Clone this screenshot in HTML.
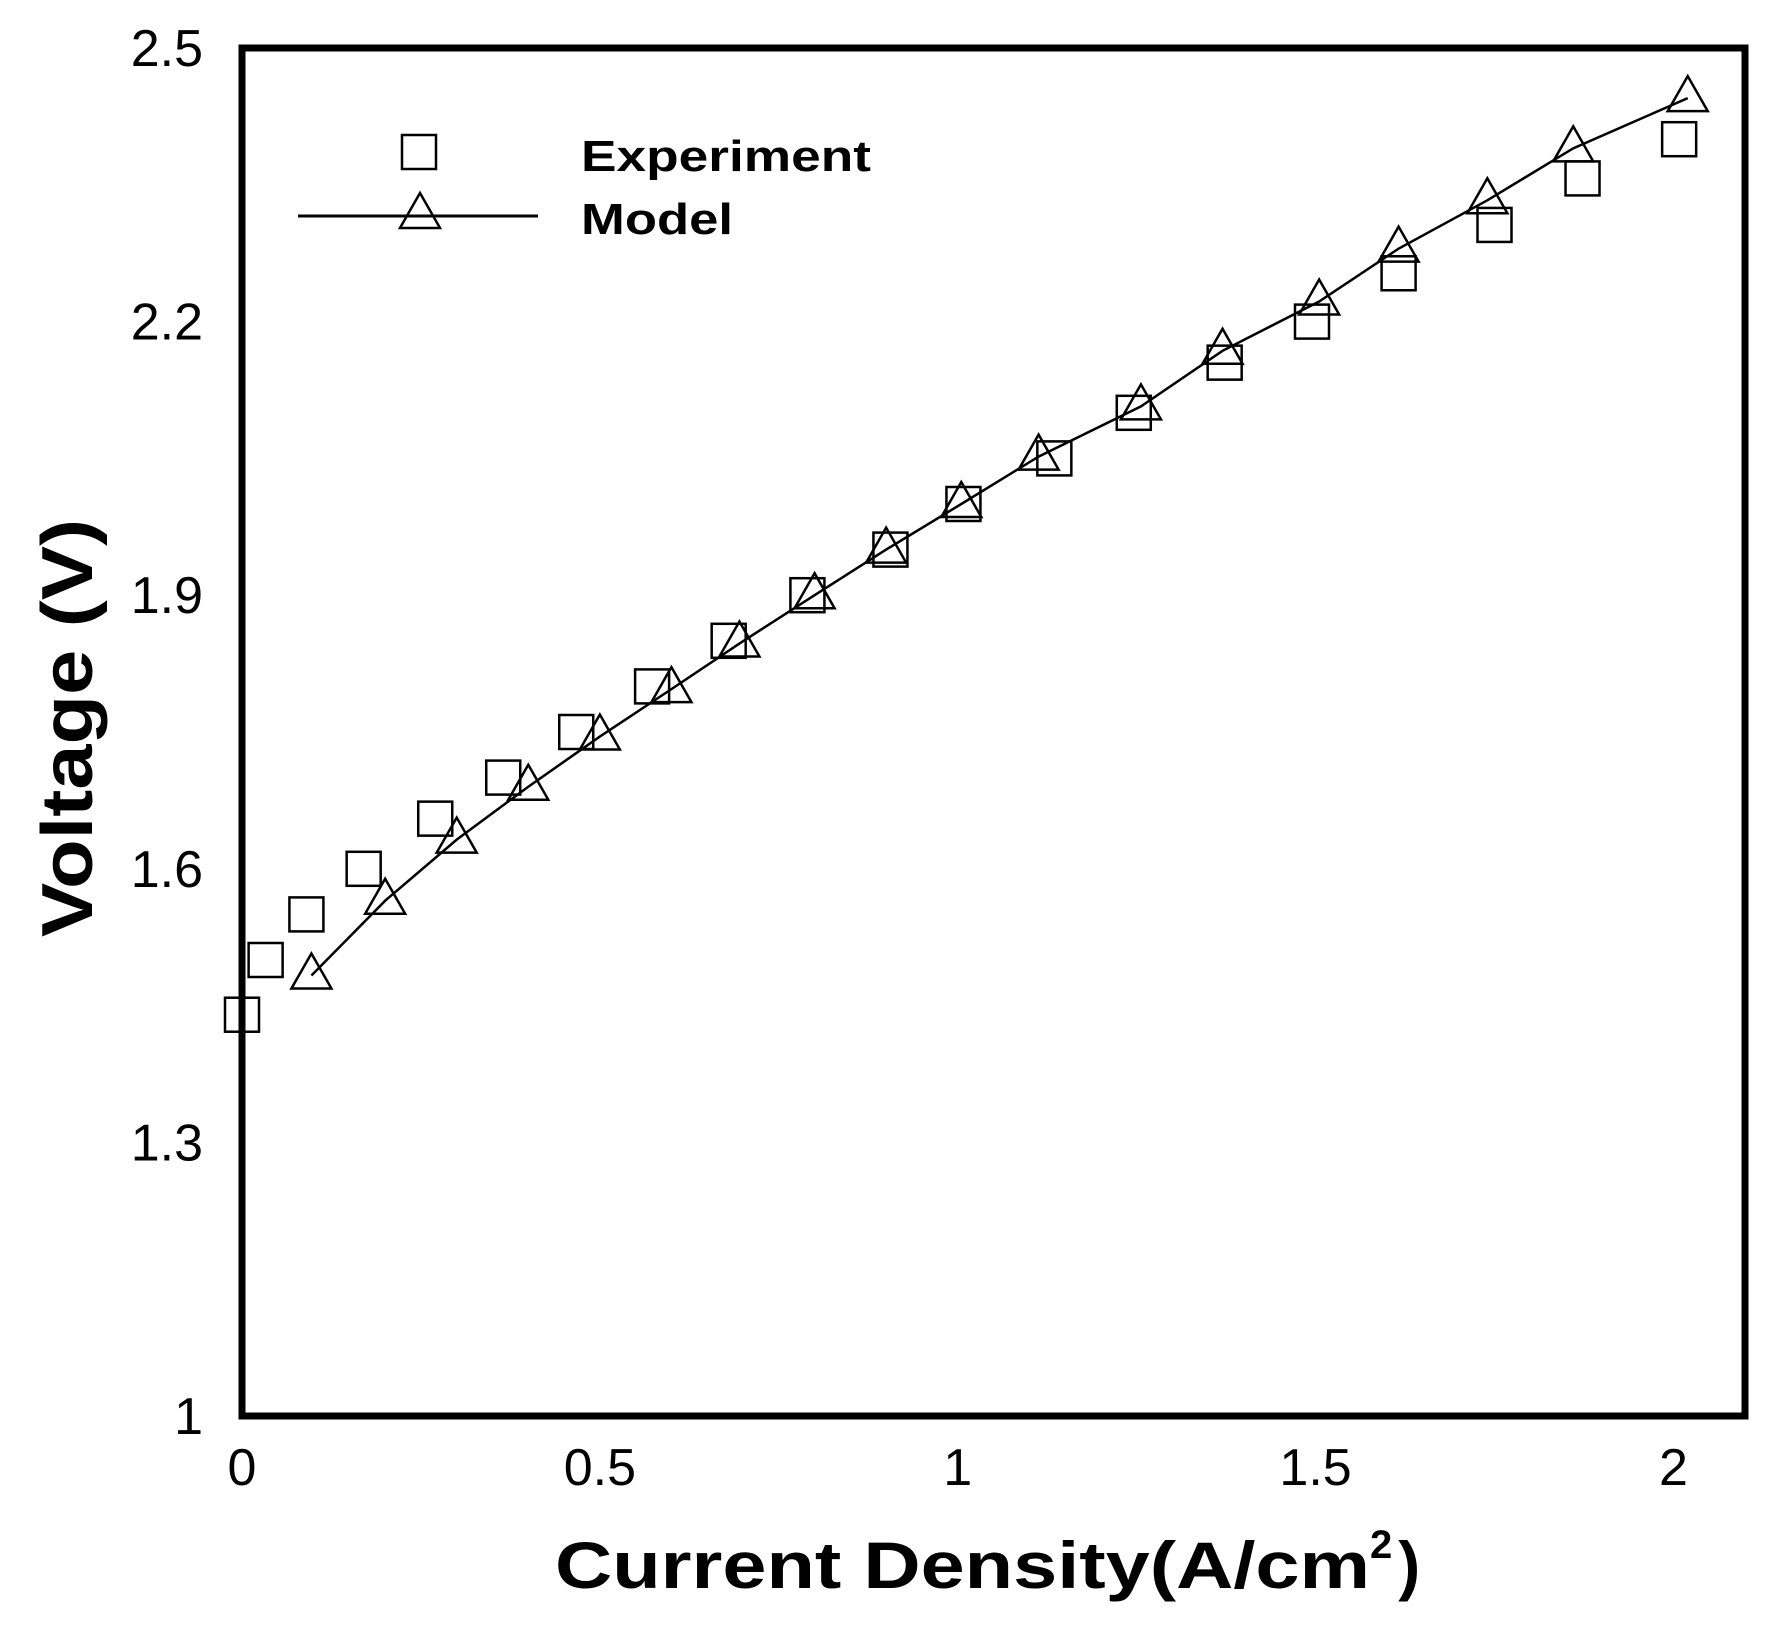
<!DOCTYPE html>
<html><head><meta charset="utf-8"><style>html,body{margin:0;padding:0;background:#fff}svg{display:block}</style></head>
<body>
<svg id="chart" width="1784" height="1634" viewBox="0 0 1784 1634" xmlns="http://www.w3.org/2000/svg" font-family="Liberation Sans, sans-serif">
<rect x="242" y="48" width="1503" height="1368" fill="none" stroke="#000" stroke-width="7"/>
<g id="yticks"></g>
<g id="xticks"></g>
<text x="0" y="0" transform="translate(92,728) rotate(-90)" text-anchor="middle" font-size="72" font-weight="bold" textLength="418" lengthAdjust="spacingAndGlyphs">Voltage (V)</text>
<text x="555" y="1588" font-size="66" font-weight="bold"><tspan textLength="815" lengthAdjust="spacingAndGlyphs">Current Density(A/cm</tspan><tspan dy="-30" font-size="40">2</tspan><tspan dy="30" dx="6">)</tspan></text>
<g id="series"></g>
<g>
<rect x="402" y="135" width="34" height="34" fill="none" stroke="#000" stroke-width="2.5"/>
<text x="581" y="171" font-size="44" font-weight="bold" textLength="290" lengthAdjust="spacingAndGlyphs">Experiment</text>
<line x1="298" y1="216" x2="538" y2="216" stroke="#000" stroke-width="3"/>
<polygon points="420,193 400,228 440,228" fill="none" stroke="#000" stroke-width="2.5"/>
<text x="581" y="234" font-size="44" font-weight="bold" textLength="152" lengthAdjust="spacingAndGlyphs">Model</text>
</g>
</svg>
<script>
const yTicks = [1, 1.3, 1.6, 1.9, 2.2, 2.5];
const yTickLabels = ["1", "1.3", "1.6", "1.9", "2.2", "2.5"];
const xTicks = [0, 0.5, 1, 1.5, 2];
const xTickLabels = ["0", "0.5", "1", "1.5", "2"];
const expX = [0, 0.033, 0.09, 0.17, 0.27, 0.365, 0.467, 0.573, 0.68, 0.79, 0.906, 1.008, 1.135, 1.246, 1.373, 1.495, 1.616, 1.75, 1.873, 2.008];
const expY = [1.44, 1.50, 1.55, 1.60, 1.655, 1.70, 1.75, 1.80, 1.85, 1.90, 1.95, 2.00, 2.05, 2.10, 2.155, 2.20, 2.253, 2.306, 2.357, 2.40];
const modelX = [0.097, 0.2, 0.3, 0.4, 0.5, 0.6, 0.695, 0.8, 0.9, 1.005, 1.113, 1.256, 1.37, 1.505, 1.616, 1.74, 1.86, 2.02];
const modelY = [1.483, 1.565, 1.632, 1.69, 1.745, 1.797, 1.847, 1.9, 1.95, 2.0, 2.052, 2.107, 2.168, 2.222, 2.28, 2.333, 2.39, 2.445];

const NS = "http://www.w3.org/2000/svg";
const X0 = 242, X1 = 1745, Y0 = 1416, Y1 = 48;
function sx(v){ return X0 + (v - 0) / 2.1 * (X1 - X0); }
function sy(v){ return Y0 - (v - 1) / 1.5 * (Y0 - Y1); }
function mk(tag, attrs){ const e = document.createElementNS(NS, tag); for (const k in attrs) e.setAttribute(k, attrs[k]); return e; }

const yg = document.getElementById('yticks');
yTicks.forEach((v, i) => {
  const t = mk('text', {x: 203, y: sy(v) + 18, 'text-anchor': 'end', 'font-size': '52'});
  t.textContent = yTickLabels[i];
  
  
  yg.appendChild(t);
});
const xg = document.getElementById('xticks');
xTicks.forEach((v, i) => {
  const t = mk('text', {x: sx(v), y: 1485, 'text-anchor': 'middle', 'font-size': '52'});
  t.textContent = xTickLabels[i];
  
  
  xg.appendChild(t);
});

const sg = document.getElementById('series');
const pts = modelX.map((x, i) => sx(x) + ',' + sy(modelY[i])).join(' ');
const line = mk('polyline', {points: pts, fill: 'none', stroke: '#000', 'stroke-width': '2.5'});


sg.appendChild(line);
modelX.forEach((x, i) => {
  const cx = sx(x), cy = sy(modelY[i]);
  const p = mk('polygon', {points: `${cx},${cy-22} ${cx-20},${cy+13} ${cx+20},${cy+13}`, fill: 'none', stroke: '#000', 'stroke-width': '2.5'});
  
  
  sg.appendChild(p);
});
expX.forEach((x, i) => {
  const cx = sx(x), cy = sy(expY[i]);
  const r = mk('rect', {x: cx - 17, y: cy - 17, width: 34, height: 34, fill: 'none', stroke: '#000', 'stroke-width': '2.5'});
  
  
  sg.appendChild(r);
});
</script>
</body></html>
